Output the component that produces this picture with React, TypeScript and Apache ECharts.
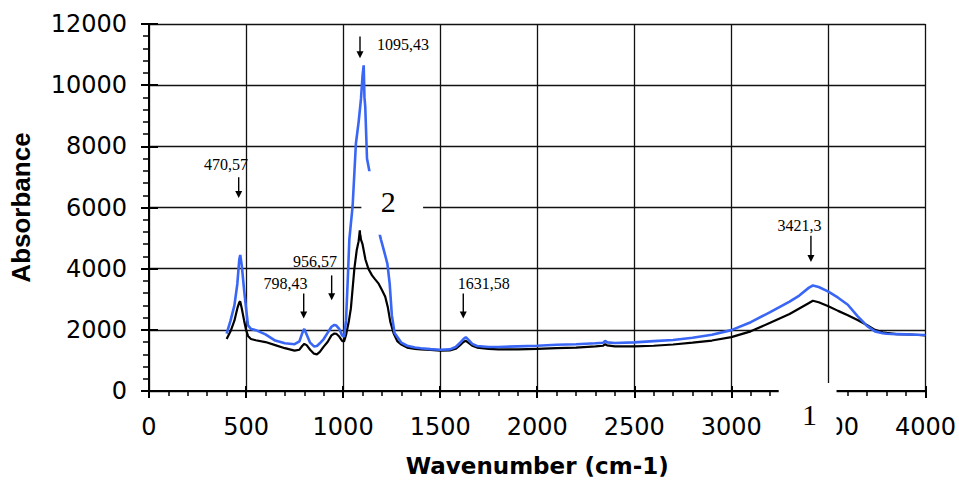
import React, { useEffect, useRef } from "react";
import * as echarts from "echarts";

// Spectrum 1 (black)
const blackWavenumbers = [
  400, 420, 440, 455, 465, 470, 478, 490, 500, 510, 525, 550, 600, 650, 700, 750, 775, 790, 800, 812,
  830, 850, 865, 880, 900, 920, 940, 955, 965, 980, 995, 1005, 1015, 1030, 1040, 1058, 1070, 1080, 1086,
  1092, 1100, 1115, 1130, 1149, 1165, 1183, 1200, 1217, 1230, 1243, 1260, 1280, 1300, 1330, 1370, 1400,
  1450, 1500, 1550, 1580, 1600, 1620, 1632, 1645, 1665, 1690, 1750, 1800, 1900, 2000, 2100, 2200, 2300,
  2340, 2350, 2360, 2400, 2500, 2600, 2700, 2800, 2900, 3000, 3100, 3200, 3300, 3350, 3400, 3420, 3450,
  3500, 3550, 3600, 3650, 3700, 3740, 3780, 3800, 3850, 3900, 3950, 4000,
];
const blackAbsorbance = [
  1700, 1950, 2300, 2700, 2900, 2930, 2700, 2300, 2000, 1800, 1700, 1660, 1600, 1500, 1400, 1320, 1350,
  1480, 1540, 1500, 1350, 1220, 1200, 1280, 1450, 1600, 1820, 1880, 1870, 1780, 1640, 1620, 1830, 2300,
  2700, 4000, 4600, 4900, 5250, 4950, 4800, 4300, 4000, 3780, 3650, 3510, 3300, 3080, 2750, 2270, 1890,
  1620, 1520, 1420, 1380, 1360, 1340, 1320, 1330, 1380, 1480, 1600, 1640, 1580, 1480, 1420, 1380, 1360,
  1360, 1380, 1400, 1420, 1460, 1480, 1530, 1490, 1460, 1460, 1480, 1520, 1580, 1650, 1760, 1950, 2230,
  2520, 2700, 2880, 2950, 2900, 2770, 2620, 2480, 2320, 2150, 2000, 1920, 1900, 1860, 1850, 1840, 1820,
];

// Spectrum 2 (blue)
const blueWavenumbers = [
  400, 420, 440, 455, 465, 470, 478, 490, 500, 510, 525, 550, 600, 650, 700, 750, 775, 790, 800, 812,
  830, 850, 865, 880, 900, 920, 940, 955, 965, 980, 995, 1005, 1015, 1025, 1032, 1049, 1066, 1080, 1092,
  1100, 1106, 1110, 1114, 1123, 1135, 1150, 1170, 1195, 1210, 1228, 1240, 1251, 1265, 1285, 1300, 1330,
  1370, 1400, 1450, 1500, 1550, 1580, 1600, 1620, 1632, 1645, 1665, 1690, 1750, 1800, 1900, 2000, 2100,
  2200, 2300, 2340, 2350, 2360, 2400, 2500, 2600, 2700, 2800, 2900, 3000, 3100, 3200, 3300, 3350, 3400,
  3420, 3450, 3500, 3550, 3600, 3650, 3700, 3740, 3780, 3800, 3850, 3900, 3950, 4000,
];
const blueAbsorbance = [
  1880, 2300, 2800, 3500, 4300, 4450, 4100, 3300, 2700, 2150, 2030, 1990, 1850, 1650, 1560, 1530, 1620,
  1900, 2030, 1850, 1580, 1460, 1470, 1560, 1700, 1900, 2100, 2160, 2140, 2030, 1820, 1780, 2300, 3800,
  4950, 6050, 8100, 8800, 9550, 10300, 10650, 9600, 9300, 7600, 7200, 6300, 5600, 4950, 4600, 4160, 3500,
  2480, 1900, 1720, 1580, 1480, 1420, 1400, 1370, 1350, 1360, 1440, 1560, 1700, 1760, 1680, 1540, 1470,
  1440, 1440, 1460, 1480, 1510, 1530, 1560, 1580, 1640, 1590, 1570, 1590, 1630, 1670, 1740, 1840, 1990,
  2250, 2580, 2920, 3120, 3380, 3450, 3400, 3250, 3050, 2820, 2450, 2120, 1950, 1890, 1870, 1860, 1850,
  1840, 1830,
];

// Peak annotations
const peakLabels = ["470,57", "798,43", "956,57", "1095,43", "1631,58", "3421,3"];
const peakArrowX = [462, 797, 941, 1087, 1619, 3410];
const peakArrowTop = [6990, 3190, 3780, 11590, 3190, 5080];
const peakArrowBottom = [6310, 2370, 2970, 10880, 2370, 4220];
const peakLabelX = [397, 703, 855, 1309, 1725, 3351];
const peakLabelY = [7415, 3512, 4250, 11317, 3512, 5398];

// Curve numbers with their white masks (data coordinates)
const curveNumbers = ["2", "1"];
const curveNumberX = [1232, 3402];
const curveNumberY = [6211, -771];
const maskX0 = [1094, 3244];
const maskX1 = [1412, 3542];
const maskY0 = [7187, 260];
const maskY1 = [5106, -1690];

// x tick whose label is half hidden by the "1" mask
const maskedTick = 3500;

const pair = (xs: number[], ys: number[]) => xs.map((x, i) => [x, ys[i]]);

export default function App() {
  const ref = useRef<HTMLDivElement>(null);
  useEffect(() => {
    document.body.style.margin = "0";
    if (!ref.current) return;
    const chart = echarts.init(ref.current, undefined, { renderer: "svg" });
    const tickFont = { fontFamily: "DejaVu Sans", fontSize: 24, color: "#000" };
    const axisBase = {
      type: "value" as const,
      axisLine: { show: true, onZero: false, lineStyle: { color: "#000", width: 2 } },
      splitLine: { show: true, lineStyle: { color: "#111", width: 1.3 } },
    };
    chart.setOption({
      animation: false,
      backgroundColor: "#fff",
      grid: { left: 149, right: 31, top: 24, bottom: 90, containLabel: false },
      xAxis: [
        {
          ...axisBase,
          min: 0,
          max: 4000,
          interval: 500,
          position: "bottom",
          axisTick: { show: true, inside: false, length: 7, lineStyle: { color: "#000", width: 2 } },
          minorTick: { show: true, splitNumber: 5, length: 5, lineStyle: { color: "#000", width: 1.5 } },
          axisLabel: {
            ...tickFont,
            margin: 24,
            formatter: (v: number) => {
              if (v === maskedTick) {
                const s = String(v);
                return "{pad|}{v|" + s.slice(2) + "}";
              }
              return String(v);
            },
            rich: {
              pad: { width: 30.5, fontFamily: "DejaVu Sans", fontSize: 24 },
              v: { fontFamily: "DejaVu Sans", fontSize: 24, color: "#000" },
            },
          },
          name: "Wavenumber (cm-1)",
          nameLocation: "middle",
          nameGap: 63,
          nameTextStyle: { fontFamily: "DejaVu Sans", fontWeight: "bold", fontSize: 23, color: "#000" },
        },
        {
          type: "value",
          min: 0,
          max: 4000,
          interval: 500,
          position: "bottom",
          axisLine: { show: false },
          axisTick: { show: true, inside: true, length: 5, lineStyle: { color: "#000", width: 2 } },
          axisLabel: { show: false },
          splitLine: { show: false },
        },
      ],
      yAxis: [
        {
          ...axisBase,
          min: 0,
          max: 12000,
          interval: 2000,
          position: "left",
          axisTick: { show: true, inside: false, length: 8, lineStyle: { color: "#000", width: 2 } },
          minorTick: { show: true, splitNumber: 5, length: 6, lineStyle: { color: "#000", width: 1.5 } },
          axisLabel: { ...tickFont, margin: 22, formatter: (v: number) => String(v) },
          name: "Absorbance",
          nameLocation: "middle",
          nameRotate: 90,
          nameGap: 115,
          nameTextStyle: { fontFamily: "Liberation Sans", fontWeight: "bold", fontSize: 26, color: "#000" },
        },
        {
          type: "value",
          min: 0,
          max: 12000,
          interval: 2000,
          position: "left",
          axisLine: { show: false },
          axisTick: { show: true, inside: true, length: 9, lineStyle: { color: "#000", width: 2 } },
          axisLabel: { show: false },
          splitLine: { show: false },
        },
      ],
      series: [
        {
          name: "1",
          type: "line",
          xAxisIndex: 0,
          yAxisIndex: 0,
          data: pair(blackWavenumbers, blackAbsorbance),
          showSymbol: false,
          symbol: "none",
          lineStyle: { color: "#000", width: 2.2 },
          z: 3,
        },
        {
          name: "2",
          type: "line",
          xAxisIndex: 0,
          yAxisIndex: 0,
          data: pair(blueWavenumbers, blueAbsorbance),
          showSymbol: false,
          symbol: "none",
          lineStyle: { color: "#3a66f5", width: 2.6 },
          z: 4,
        },
      ],
    });

    const px = (x: number, y: number) => chart.convertToPixel({ seriesIndex: 0 }, [x, y]) as number[];
    const elements: any[] = [];
    curveNumbers.forEach((t, i) => {
      const a = px(maskX0[i], maskY0[i]);
      const b = px(maskX1[i], maskY1[i]);
      elements.push({
        type: "rect",
        z: 100,
        shape: { x: a[0], y: a[1], width: b[0] - a[0], height: b[1] - a[1] },
        style: { fill: "#fff" },
      });
      const c = px(curveNumberX[i], curveNumberY[i]);
      elements.push({
        type: "text",
        z: 101,
        x: c[0],
        y: c[1],
        style: {
          text: t,
          font: '30px "Liberation Serif"',
          fill: "#000",
          align: "center",
          verticalAlign: "middle",
          textAlign: "center",
          textVerticalAlign: "middle",
        },
      });
    });
    peakLabels.forEach((t, i) => {
      const top = px(peakArrowX[i], peakArrowTop[i]);
      const bot = px(peakArrowX[i], peakArrowBottom[i]);
      elements.push({
        type: "line",
        z: 100,
        shape: { x1: top[0], y1: top[1], x2: bot[0], y2: bot[1] - 5 },
        style: { stroke: "#000", lineWidth: 1.4 },
      });
      elements.push({
        type: "polygon",
        z: 100,
        shape: {
          points: [
            [bot[0] - 3.5, bot[1] - 7],
            [bot[0] + 3.5, bot[1] - 7],
            [bot[0], bot[1]],
          ],
        },
        style: { fill: "#000" },
      });
      const l = px(peakLabelX[i], peakLabelY[i]);
      elements.push({
        type: "text",
        z: 100,
        x: l[0],
        y: l[1],
        style: {
          text: t,
          font: '16px "Liberation Serif"',
          fill: "#000",
          align: "center",
          verticalAlign: "middle",
          textAlign: "center",
          textVerticalAlign: "middle",
        },
      });
    });
    chart.setOption({ graphic: { elements } });

    return () => chart.dispose();
  }, []);
  return <div ref={ref} style={{ width: 959, height: 482 }} />;
}
